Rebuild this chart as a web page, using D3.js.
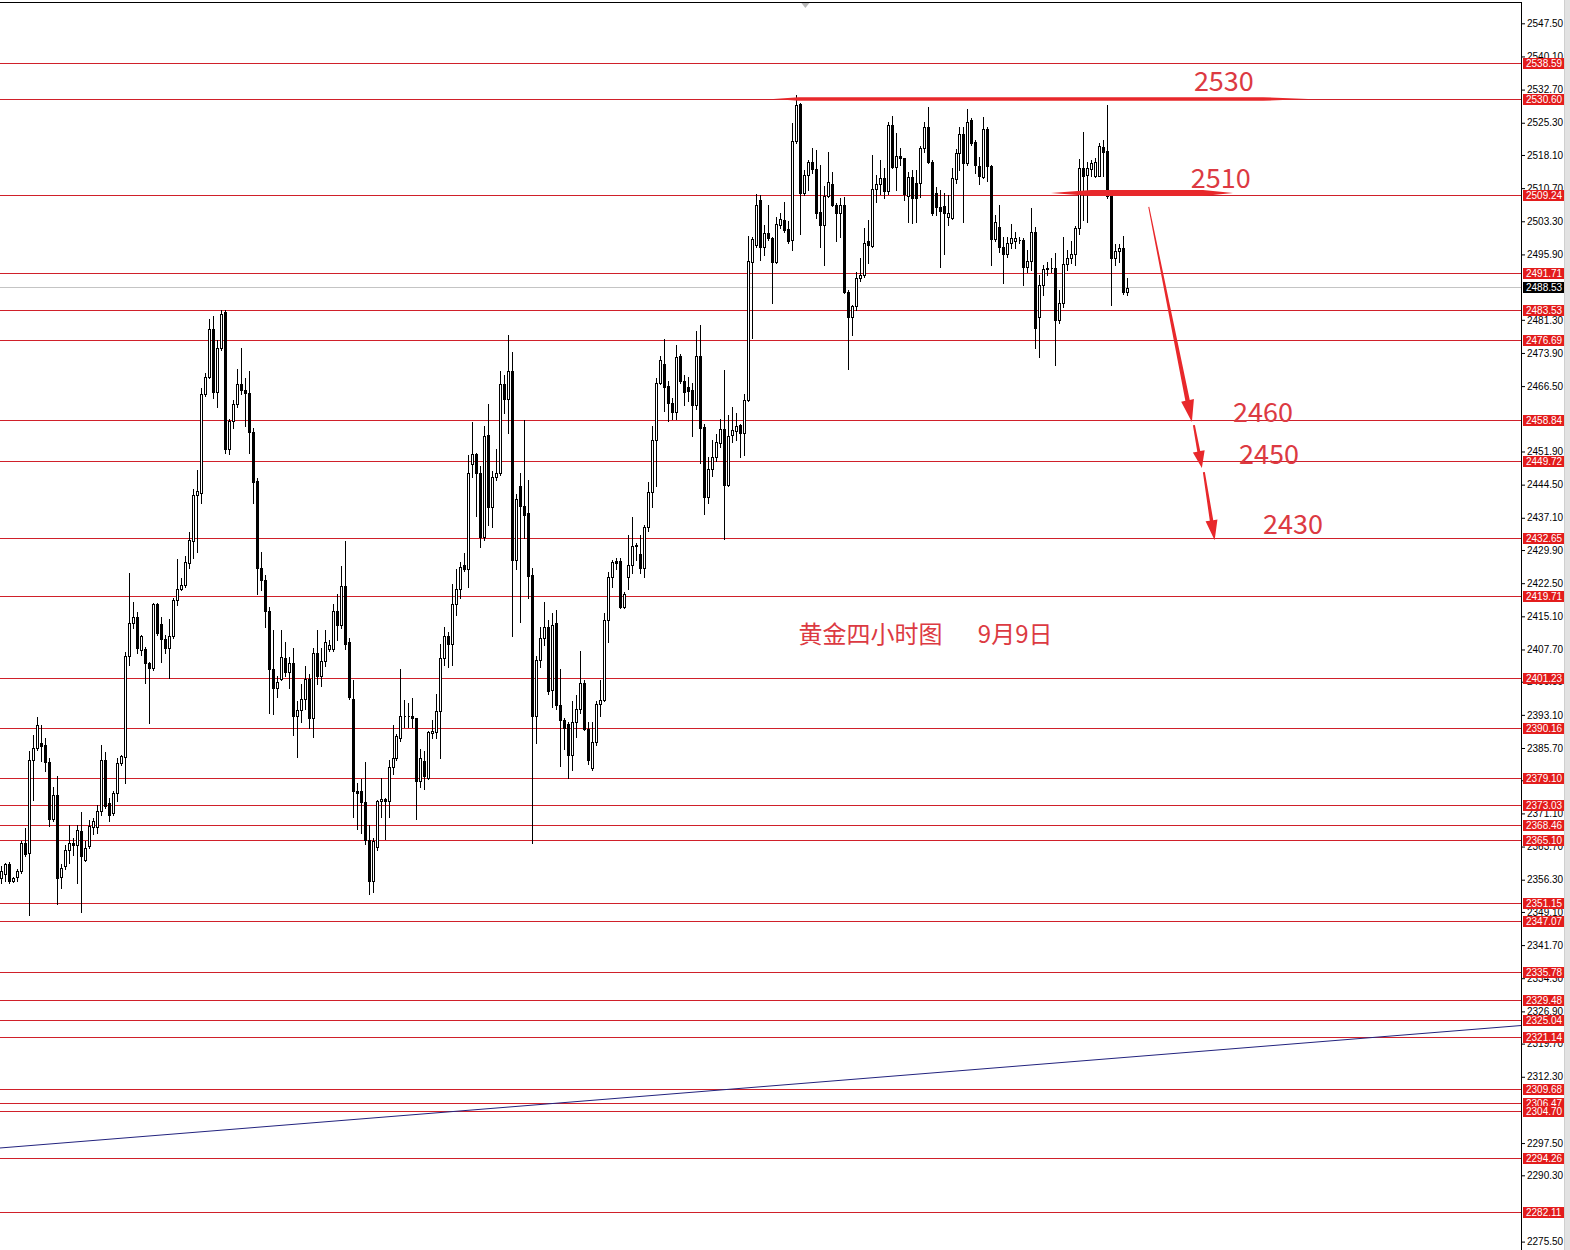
<!DOCTYPE html>
<html><head><meta charset="utf-8">
<script src="https://cdn.jsdelivr.net/npm/d3@7"></script>
<style>html,body{margin:0;padding:0;background:#fff;}svg{display:block}</style>
</head><body>
<svg id="chart" width="1570" height="1250"></svg>
<script>
// ---------------- DATA ----------------
const opens=[
2356.7,2357.6,2359.8,2356.0,2356.9,2358.2,2364.5,2362.3,2383.1,2385.7,
2386.8,2386.4,2382.6,2369.9,2375.3,2356.9,2359.3,2363.0,2364.5,2364.1,
2367.2,2360.8,2363.8,2368.0,2368.0,2371.6,2383.1,2373.4,2371.2,2375.6,
2382.3,2383.8,2406.3,2413.5,2415.0,2407.6,2407.8,2404.6,2403.5,2417.8,
2413.3,2410.0,2408.0,2410.6,2418.7,2421.3,2422.1,2427.0,
2432.0,2442.2,2442.6,2464.8,2468.6,2479.3,2465.2,2475.0,2483.1,2452.4,
2458.8,2462.4,2466.9,2465.6,2465.0,2456.3,2445.4,2426.0,2423.2,2416.2,
2403.4,2399.2,2401.1,2405.8,2402.6,2404.7,2392.8,2394.2,2396.6,2401.1,
2392.5,2406.9,2401.7,2405.1,2407.9,2407.9,2416.2,2413.2,2421.8,2409.4,
2396.6,2376.2,2376.2,2373.6,2365.1,
2356.0,2363.7,2373.8,2374.4,2373.8,2381.5,2383.5,2388.0,2392.8,2392.9,
2392.8,2392.4,2378.3,2382.7,2379.1,2389.0,2389.2,2394.0,2405.8,2410.8,
2409.0,2417.8,2421.2,2426.5,2425.6,2449.1,2451.3,2447.1,2432.9,2455.6,
2439.4,2446.3,2447.1,2466.9,2463.7,2469.8,2427.7,2444.3,2439.8,2438.2,
2424.4,2392.8,2405.4,2410.2,2412.7,
2398.7,2413.6,2395.3,2391.9,2391.1,2384.2,2391.5,2394.5,2400.2,2389.9,
2381.3,2387.0,2395.6,2396.4,2414.3,2423.9,2427.4,2427.4,2417.2,2423.9,
2426.6,2430.8,2429.0,2426.0,2435.0,2442.8,2454.5,2467.3,2471.4,2466.5,
2462.8,2460.7,2473.3,2467.7,2466.3,2465.6,2462.2,2473.3,2457.3,2441.8,
2447.9,2450.7,2453.9,2456.9,2444.5,2455.6,2456.4,2457.8,2456.0,
2463.5,2494.3,2498.0,2508.0,2497.6,2500.6,2499.5,2494.3,2502.5,2503.6,
2501.5,2499.1,2521.3,2529.5,2509.7,2513.6,2516.6,2514.9,2505.4,2502.5,
2508.9,2511.6,2506.9,2505.1,2506.9,2487.6,2481.9,2484.4,2490.6,2491.3,
2498.8,2497.8,2510.4,2511.6,2512.9,2510.1,2524.8,2515.5,2517.9,2517.4,
2508.9,2513.1,2511.8,2511.8,2519.6,2524.3,2516.6,2509.7,2506.4,
2506.6,2504.2,2504.0,2512.7,2518.5,2522.8,2516.4,2525.9,2520.9,2515.6,
2513.1,2523.8,2515.6,2499.3,2502.0,2497.5,2496.1,2498.5,2499.0,2499.2,
2499.1,2493.2,2494.5,2500.8,2482.0,2489.1,2492.6,2492.9,2492.8,2481.3,
2485.0,2493.8,2495.0,2496.0,2501.7,2515.1,2513.6,2514.9,2513.4,2513.4,
2519.8,2519.1,2508.9,2495.2,2496.7,2497.3,2487.4];
const highs=[
2359.3,2360.0,2360.3,2356.9,2358.6,2364.9,2367.9,2385.1,2388.7,2392.7,
2390.9,2387.9,2383.4,2377.1,2379.4,2359.7,2364.1,2368.6,2365.6,2368.6,
2371.4,2364.9,2369.7,2370.1,2373.0,2386.4,2384.9,2374.5,2376.0,2383.4,
2384.2,2407.2,2424.7,2418.4,2416.1,2410.9,2408.3,2405.0,2418.0,2418.0,
2415.0,2410.9,2414.6,2419.1,2428.0,2423.6,2428.5,2434.0,
2443.5,2447.7,2466.1,2469.5,2481.4,2482.2,2476.7,2483.5,2483.5,2459.2,
2463.5,2470.3,2475.0,2468.2,2469.9,2457.1,2446.0,2429.4,2424.3,2417.1,
2412.0,2401.7,2412.0,2409.4,2406.0,2408.1,2396.2,2400.0,2403.9,2402.2,
2408.1,2412.0,2408.1,2412.0,2409.8,2417.9,2420.0,2426.4,2432.0,2410.3,
2400.9,2377.9,2378.7,2382.6,2368.5,
2365.7,2374.2,2379.1,2374.6,2383.1,2390.8,2388.8,2403.4,2396.5,2395.7,
2396.9,2392.4,2385.5,2385.1,2389.6,2392.0,2397.7,2409.0,2412.7,2411.5,
2422.4,2425.6,2427.3,2429.3,2451.2,2458.5,2451.6,2448.7,2457.6,2462.5,
2447.5,2452.4,2469.8,2469.0,2477.9,2474.2,2442.3,2447.1,2458.9,2445.5,
2426.0,2406.2,2412.7,2418.3,2414.3,
2415.8,2416.6,2403.4,2392.3,2391.5,2396.2,2397.5,2407.3,2400.9,2391.5,
2391.5,2396.2,2400.9,2415.8,2425.1,2427.7,2428.1,2428.1,2420.5,2433.2,
2437.3,2431.5,2433.2,2435.4,2445.2,2457.5,2468.2,2473.3,2477.1,2467.7,
2463.9,2475.7,2473.7,2469.0,2468.6,2467.3,2478.8,2480.1,2458.0,2450.7,
2454.5,2455.8,2459.2,2470.0,2460.1,2461.8,2460.5,2458.0,2464.8,
2500.0,2499.9,2509.4,2509.2,2502.5,2506.9,2499.9,2504.3,2505.1,2507.7,
2503.4,2525.2,2531.5,2529.8,2514.8,2517.0,2519.6,2519.2,2515.9,2511.2,
2518.8,2514.4,2507.3,2508.4,2508.8,2488.0,2484.6,2492.0,2495.0,2501.7,
2503.6,2518.1,2513.6,2517.0,2515.1,2525.5,2526.7,2522.9,2519.6,2517.4,
2514.4,2514.8,2514.8,2520.0,2525.5,2528.9,2517.0,2511.0,2510.3,
2509.7,2509.2,2515.1,2519.4,2524.3,2524.3,2528.3,2526.3,2521.4,2517.7,
2526.5,2524.3,2515.9,2504.7,2506.9,2499.9,2499.9,2502.8,2501.0,2499.9,
2499.5,2496.9,2506.2,2502.1,2491.3,2493.5,2494.3,2495.0,2496.3,2488.0,
2499.9,2496.9,2498.8,2502.2,2517.1,2523.3,2516.6,2517.0,2517.4,2520.7,
2521.4,2529.3,2509.5,2498.2,2498.2,2500.0,2490.6];
const lows=[
2355.6,2356.0,2355.6,2355.8,2356.0,2357.8,2361.5,2348.5,2374.2,2385.3,
2382.7,2380.5,2368.2,2369.3,2350.8,2354.5,2358.6,2360.0,2361.9,2355.6,
2349.1,2360.4,2363.4,2366.4,2366.7,2370.8,2372.3,2369.3,2370.8,2373.8,
2382.0,2377.9,2404.3,2412.4,2406.9,2406.5,2400.2,2391.3,2403.1,2410.9,
2405.0,2406.9,2401.3,2410.2,2417.6,2421.0,2421.7,2426.0,
2428.1,2429.4,2440.5,2464.4,2468.2,2463.9,2461.8,2474.6,2451.6,2451.3,
2457.1,2461.8,2464.8,2457.5,2451.6,2440.5,2420.0,2420.9,2412.8,2393.6,
2393.2,2397.0,2400.9,2401.7,2399.2,2388.5,2383.8,2391.5,2394.5,2390.2,
2388.1,2400.0,2399.6,2403.9,2407.3,2407.3,2409.8,2412.4,2407.7,2396.6,
2370.2,2367.6,2366.8,2364.2,2353.2,
2353.5,2362.9,2370.2,2365.3,2370.2,2379.9,2383.1,2387.2,2390.4,2390.4,
2390.4,2369.8,2377.1,2376.6,2378.7,2388.0,2388.0,2383.5,2404.2,2403.8,
2404.2,2415.5,2419.2,2425.2,2421.6,2446.3,2437.4,2430.5,2432.1,2435.4,
2435.0,2445.5,2446.7,2460.5,2456.0,2410.7,2425.6,2413.9,2432.5,2419.2,
2364.5,2386.8,2403.8,2408.6,2397.7,
2394.9,2394.5,2381.7,2385.5,2379.1,2380.8,2388.1,2393.6,2389.8,2382.1,
2380.8,2386.4,2392.8,2396.2,2409.4,2421.7,2425.6,2417.0,2417.0,2421.3,
2424.7,2427.7,2424.7,2423.9,2434.1,2439.6,2444.3,2466.9,2460.9,2458.6,
2459.2,2459.2,2467.3,2462.2,2463.1,2455.4,2461.4,2449.4,2437.9,2440.5,
2446.4,2449.8,2452.8,2432.4,2444.3,2454.1,2454.5,2450.7,2451.2,
2463.1,2477.2,2497.6,2494.7,2495.8,2499.1,2485.1,2493.9,2501.7,2501.0,
2498.4,2496.9,2520.7,2500.5,2509.2,2510.3,2514.0,2504.0,2497.6,2493.5,
2508.8,2506.6,2498.8,2499.9,2487.2,2470.3,2477.9,2483.5,2490.0,2490.9,
2493.9,2497.6,2507.7,2509.5,2508.4,2509.5,2515.1,2510.3,2515.9,2508.0,
2503.2,2503.0,2503.2,2508.8,2518.8,2516.2,2504.7,2504.7,2493.2,
2496.0,2502.5,2503.7,2511.8,2514.8,2503.2,2515.9,2520.3,2514.0,2511.6,
2512.9,2512.4,2493.5,2498.8,2496.5,2489.6,2495.4,2497.3,2497.3,2498.4,
2489.1,2492.0,2492.4,2474.9,2473.1,2486.9,2491.3,2492.0,2471.2,2480.5,
2484.2,2492.4,2493.9,2493.5,2500.5,2503.6,2503.2,2513.3,2513.1,2513.3,
2513.3,2508.5,2484.6,2493.5,2494.3,2487.1,2486.9];
const closes=[
2358.2,2359.8,2356.0,2356.7,2358.2,2364.5,2362.0,2383.1,2385.7,2390.9,
2386.2,2382.6,2369.9,2375.3,2356.7,2358.9,2363.0,2364.5,2364.0,2367.5,
2361.5,2363.4,2368.2,2369.3,2371.6,2383.1,2372.7,2370.8,2375.6,2382.3,
2384.0,2406.3,2413.5,2415.0,2408.0,2410.8,2404.6,2403.5,2417.8,2411.3,
2410.0,2408.0,2410.6,2418.7,2421.3,2422.1,2427.3,2432.1,
2442.2,2443.1,2464.8,2468.6,2479.3,2465.2,2475.0,2482.7,2452.4,2458.8,
2462.4,2466.9,2465.6,2465.0,2456.3,2445.2,2426.0,2423.2,2416.2,2403.4,
2399.2,2400.5,2406.0,2402.6,2404.7,2392.8,2394.2,2396.6,2401.1,2392.5,
2406.9,2401.7,2405.1,2409.4,2408.7,2416.2,2413.2,2421.8,2409.0,2397.0,
2376.2,2375.7,2373.6,2365.1,2356.1,
2364.9,2373.8,2374.4,2373.8,2381.5,2383.5,2388.4,2392.8,2392.9,2392.8,
2392.4,2378.3,2383.5,2379.5,2389.2,2389.6,2394.0,2405.8,2410.8,2409.0,
2417.8,2421.2,2426.2,2425.6,2447.1,2451.3,2447.1,2432.9,2455.4,2439.4,
2446.3,2447.1,2466.9,2463.7,2469.8,2427.7,2441.4,2439.8,2437.8,2424.0,
2392.8,2405.4,2410.2,2412.7,2398.5,
2413.2,2395.3,2391.9,2390.2,2384.2,2391.5,2394.5,2400.2,2389.9,2383.0,
2387.0,2395.6,2396.4,2414.3,2423.9,2427.3,2427.1,2417.2,2420.0,2426.6,
2430.8,2431.1,2426.0,2435.0,2442.8,2454.5,2467.3,2472.3,2466.3,2462.8,
2460.7,2473.1,2467.7,2465.2,2465.4,2462.2,2473.3,2457.1,2441.8,2447.9,
2450.7,2454.1,2456.9,2444.5,2455.4,2456.7,2457.5,2456.0,2463.5,
2494.4,2499.4,2506.9,2497.6,2500.6,2499.5,2494.3,2502.8,2503.7,2501.4,
2499.0,2521.3,2529.3,2509.7,2513.6,2516.6,2514.9,2505.2,2502.5,2508.9,
2512.1,2506.9,2505.1,2506.9,2487.6,2481.9,2484.4,2490.6,2491.3,2498.5,
2498.0,2510.4,2511.6,2512.9,2510.1,2524.8,2515.5,2517.9,2517.4,2509.4,
2513.1,2508.4,2508.4,2519.6,2524.3,2516.6,2505.2,2506.4,2505.5,
2505.1,2505.2,2512.9,2518.5,2522.8,2516.4,2525.5,2520.7,2515.9,2513.3,
2523.8,2515.6,2499.3,2503.2,2497.5,2496.1,2498.5,2499.5,2499.5,2499.1,
2493.2,2494.5,2500.8,2479.4,2489.1,2492.6,2492.9,2492.8,2481.3,2485.0,
2493.8,2495.0,2496.0,2501.7,2515.1,2513.4,2515.1,2516.4,2516.6,2520.0,
2518.8,2508.9,2495.0,2496.7,2497.3,2487.4,2488.5];

const levelPrices=[2538.59,2530.60,2509.24,2491.71,2483.53,2476.69,2458.84,2449.72,2432.65,2419.71,
2401.23,2390.16,2379.10,2373.03,2368.46,2365.10,2351.15,2347.07,2335.78,2329.48,
2325.04,2321.14,2309.68,2306.47,2304.70,2294.26,2282.11];
const tickValues=[2547.50,2540.10,2532.70,2525.30,2518.10,2510.70,2503.30,2495.90,2481.30,
2473.90,2466.50,2451.90,2444.50,2437.10,2429.90,2422.50,2415.10,2407.70,
2400.50,2393.10,2385.70,2378.50,2371.10,2363.70,2356.30,2349.10,2341.70,2334.30,
2326.90,2319.70,2312.30,2297.50,2290.30,2275.50];
const currentPrice=2488.53;
const trendLine=[{i:-0.3,p:2296.4},{i:381.5,p:2323.8}];
const zoneLines=[{i0:193.4,i1:327.3,p:2530.6},{i0:262.9,i1:308.5,p:2509.6}];
const zoneLabels=[{t:"2530",i:298.7,p:2532.4},{t:"2510",i:297.9,p:2510.7},
  {t:"2460",i:308.5,p:2458.5},{t:"2450",i:310.0,p:2449.1},{t:"2430",i:316.0,p:2433.5}];
const arrows=[{i0:287.4,p0:2506.5,i1:298.2,p1:2458.5},
  {i0:298.7,p0:2457.8,i1:300.7,p1:2448.2},
  {i0:301.2,p0:2447.3,i1:303.9,p1:2432.1}];
const titleTexts=[{t:"黄金四小时图",i:199.7,p:2409.1},{t:"9月9日",i:244.6,p:2409.1}];
const topMarkerIndex=201.4;

// ---------------- RENDER ----------------
const W=1570,H=1250,AXIS_X=1521;
const svg=d3.select("#chart");
svg.append("rect").attr("width",W).attr("height",H).attr("fill","#fff");
const x=d3.scaleLinear().domain([0,opens.length-1]).range([1.2,1127.2]);
const y=d3.scaleLinear().domain([2547.5,2275.5]).range([23.3,1241.6]);
const py=p=>Math.round(y(p))+0.5;

svg.append("defs").append("clipPath").attr("id","plotClip")
  .append("rect").attr("x",0).attr("y",0).attr("width",AXIS_X).attr("height",H);
const g=svg.append("g").attr("clip-path","url(#plotClip)");

g.append("line").attr("x1",0).attr("x2",AXIS_X).attr("y1",py(currentPrice)).attr("y2",py(currentPrice))
  .attr("stroke","#c4c4c4").attr("stroke-width",1).attr("shape-rendering","crispEdges");
g.append("g").selectAll("line").data(levelPrices).join("line")
  .attr("x1",0).attr("x2",AXIS_X).attr("y1",d=>py(d)).attr("y2",d=>py(d))
  .attr("stroke","#d0202a").attr("stroke-width",1).attr("shape-rendering","crispEdges");
g.append("line").attr("x1",x(trendLine[0].i)).attr("y1",y(trendLine[0].p))
  .attr("x2",x(trendLine[1].i)).attr("y2",y(trendLine[1].p))
  .attr("stroke","#23237e").attr("stroke-width",1);

const idx=d3.range(opens.length);
const cg=g.append("g");
cg.selectAll("line.w").data(idx).join("line").attr("class","w")
  .attr("x1",i=>Math.round(x(i))+0.5).attr("x2",i=>Math.round(x(i))+0.5)
  .attr("y1",i=>Math.round(y(Math.max(highs[i],opens[i],closes[i]))))
  .attr("y2",i=>Math.round(y(Math.min(lows[i],opens[i],closes[i])))+1)
  .attr("stroke","#000").attr("stroke-width",1).attr("shape-rendering","crispEdges");
cg.selectAll("path.b").data(idx).join("path").attr("class","b")
  .attr("d",i=>{
    const cx=Math.round(x(i));
    const top=Math.round(y(Math.max(opens[i],closes[i])))+0.5;
    const bot=Math.round(y(Math.min(opens[i],closes[i])))+0.5;
    return `M${cx-0.5},${top}h2V${bot}h-2Z`;
  })
  .attr("fill",i=>closes[i]>=opens[i]?"#fff":"#000")
  .attr("stroke","#000").attr("stroke-width",1).attr("shape-rendering","crispEdges");

const RED="#e8282b";
function lens(x0,x1,yc,t,tl,tr){
  return `M${x0},${yc}L${x0+tl},${yc-t/2}L${x1-tr},${yc-t/2}L${x1},${yc}L${x1-tr},${yc+t/2}L${x0+tl},${yc+t/2}Z`;
}
g.append("path").attr("d",lens(x(zoneLines[0].i0),x(zoneLines[0].i1),y(zoneLines[0].p),3.6,25,45)).attr("fill",RED);
g.append("path").attr("d",lens(x(zoneLines[1].i0),x(zoneLines[1].i1),y(zoneLines[1].p),6,40,30)).attr("fill",RED);

const arrowStyle=[{w0:1,w1:4.5,hw:13,hl:22},{w0:2,w1:3,hw:12,hl:17},{w0:2,w1:3.5,hw:12,hl:20}];
arrows.forEach((a,k)=>{
  const s=arrowStyle[k];
  const x0=x(a.i0),y0=y(a.p0),x1=x(a.i1),y1=y(a.p1);
  const dx=x1-x0,dy=y1-y0,L=Math.hypot(dx,dy),ux=dx/L,uy=dy/L,nx=-uy,ny=ux;
  const bx=x1-ux*s.hl,by=y1-uy*s.hl;
  const pts=[[x0+nx*s.w0/2,y0+ny*s.w0/2],[bx+nx*s.w1/2,by+ny*s.w1/2],[bx+nx*s.hw/2,by+ny*s.hw/2],[x1,y1],
    [bx-nx*s.hw/2,by-ny*s.hw/2],[bx-nx*s.w1/2,by-ny*s.w1/2],[x0-nx*s.w0/2,y0-ny*s.w0/2]];
  svg.append("path").attr("d","M"+pts.map(p=>p.join(",")).join("L")+"Z").attr("fill",RED);
});

const TXT="#dc3a42";
svg.append("g").selectAll("text").data(zoneLabels).join("text")
  .attr("x",d=>x(d.i)).attr("y",d=>y(d.p)).text(d=>d.t)
  .attr("font-family","'Noto Sans CJK SC','Noto Sans',sans-serif").attr("font-size",27).attr("fill",TXT);
svg.append("g").selectAll("text").data(titleTexts).join("text")
  .attr("x",d=>x(d.i)).attr("y",d=>y(d.p)).text(d=>d.t)
  .attr("font-family","'Noto Sans CJK SC',sans-serif").attr("font-size",24).attr("fill",TXT);

svg.append("line").attr("x1",0).attr("x2",AXIS_X+1).attr("y1",2.5).attr("y2",2.5)
  .attr("stroke","#000").attr("stroke-width",1).attr("shape-rendering","crispEdges");
const mx=x(topMarkerIndex);
svg.append("path").attr("d",`M${mx-4},3L${mx+4},3L${mx},8Z`).attr("fill","#b8b8b8");

const axis=d3.axisRight(y).tickValues(tickValues).tickFormat(d3.format(".2f")).tickSize(4).tickPadding(2).tickSizeOuter(0);
const ag=svg.append("g").attr("transform",`translate(${AXIS_X},0)`).call(axis);
ag.select(".domain").remove();
ag.selectAll("text").attr("font-family","'Liberation Sans',Arial,sans-serif").attr("font-size",10).attr("fill","#000");
ag.selectAll("line").attr("stroke","#000");
svg.append("line").attr("x1",AXIS_X+0.5).attr("x2",AXIS_X+0.5).attr("y1",2).attr("y2",H)
  .attr("stroke","#000").attr("stroke-width",1);

const lg=svg.append("g");
levelPrices.forEach(p=>{
  const yc=Math.round(y(p));
  lg.append("rect").attr("x",AXIS_X+2).attr("y",yc-5).attr("width",41).attr("height",11).attr("fill","#e31c1c");
  lg.append("text").attr("x",AXIS_X+5).attr("y",yc).attr("dy","0.36em").text(p.toFixed(2))
    .attr("font-family","'Liberation Sans',Arial,sans-serif").attr("font-size",10).attr("fill","#fff");
});
{
  const yc=Math.round(y(currentPrice));
  lg.append("rect").attr("x",AXIS_X+2).attr("y",yc-5).attr("width",41).attr("height",11).attr("fill","#000");
  lg.append("text").attr("x",AXIS_X+5).attr("y",yc).attr("dy","0.36em").text(currentPrice.toFixed(2))
    .attr("font-family","'Liberation Sans',Arial,sans-serif").attr("font-size",10).attr("fill","#fff");
}
svg.append("rect").attr("x",1564).attr("y",0).attr("width",6).attr("height",H).attr("fill","#e2e2e2");
svg.append("line").attr("x1",1564.5).attr("x2",1564.5).attr("y1",0).attr("y2",H).attr("stroke","#cfcfcf");
</script>
</body></html>
